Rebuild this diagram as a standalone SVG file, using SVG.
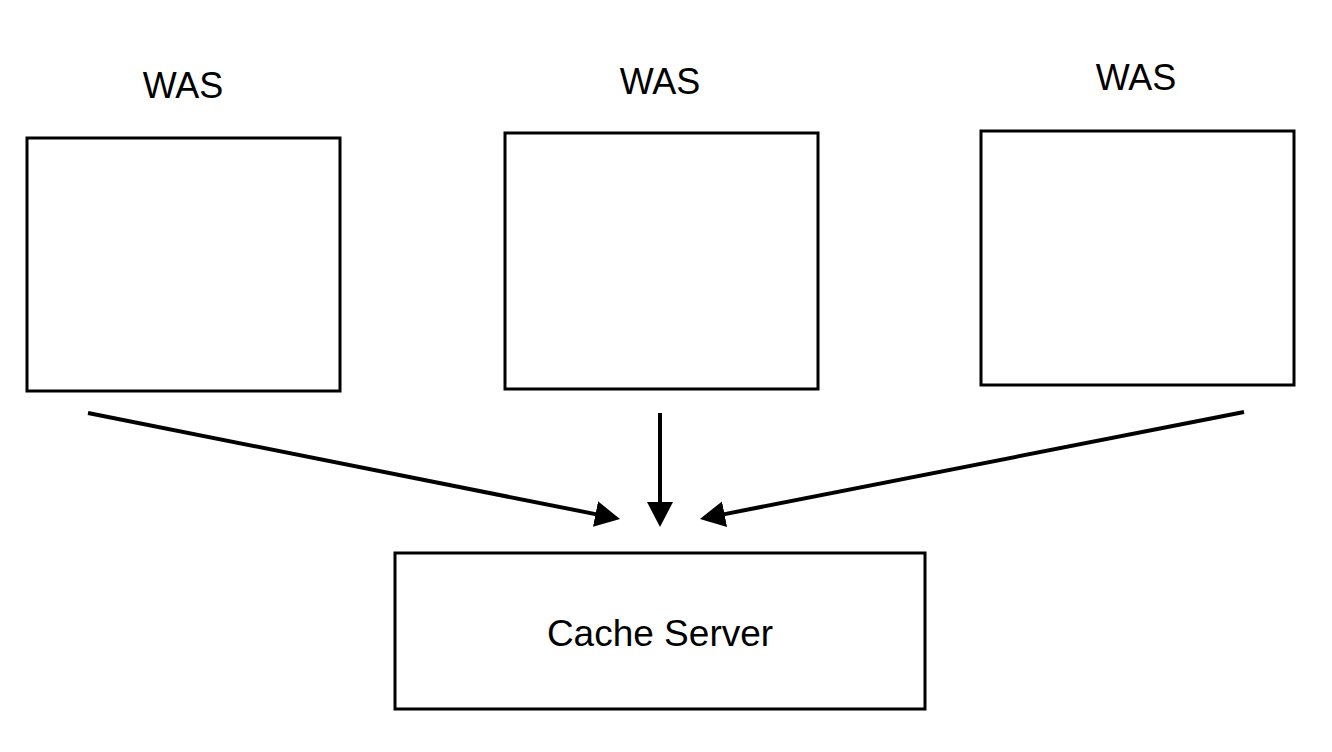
<svg xmlns="http://www.w3.org/2000/svg" width="1332" height="752" viewBox="0 0 1332 752">
<style>
.box{fill:#fff;stroke:#000;stroke-width:3}
.lbl{font-family:"Liberation Sans",Arial,sans-serif;font-size:36px;fill:#000;text-anchor:middle}
.edge{stroke:#000;stroke-width:4;fill:none;marker-end:url(#ah)}
</style>
<defs>
<marker id="ah" markerUnits="userSpaceOnUse" markerWidth="26" markerHeight="26" refX="5" refY="13" orient="auto">
<path d="M0,0 L25,13 L0,26 z" fill="#000"/>
</marker>
</defs>
<rect width="1332" height="752" fill="#fff"/>
<g id="was1">
<text class="lbl" x="183" y="98">WAS</text>
<rect class="box" x="27" y="138" width="313" height="253"/>
</g>
<g id="was2">
<text class="lbl" x="660" y="94">WAS</text>
<rect class="box" x="505" y="133" width="313" height="256"/>
</g>
<g id="was3">
<text class="lbl" x="1136" y="90">WAS</text>
<rect class="box" x="981" y="131" width="313" height="254"/>
</g>
<g id="cache">
<rect class="box" x="395" y="553" width="530" height="156"/>
<text class="lbl" x="660" y="646" style="font-size:37px">Cache Server</text>
</g>
<g id="connectors">
<line class="edge" x1="88" y1="413" x2="600.4" y2="515.1"/>
<line class="edge" x1="660" y1="413" x2="660" y2="507"/>
<line class="edge" x1="1244" y1="412" x2="719.6" y2="515.1"/>
</g>
</svg>
